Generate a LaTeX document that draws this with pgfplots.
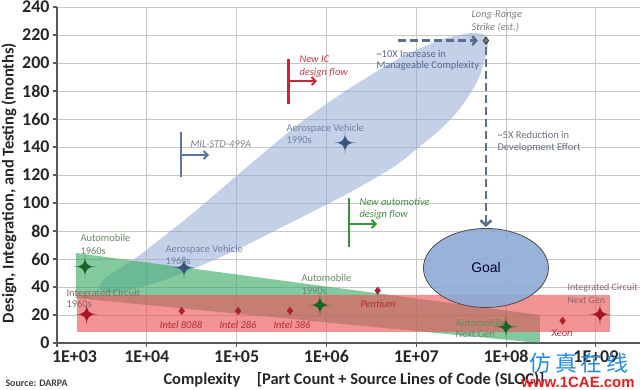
\documentclass[border=0pt]{standalone}
\usepackage{fontspec}
\setmainfont{Carlito}
\newfontfamily\arialfont{Liberation Sans}
\newfontfamily\cjk{Noto Sans CJK SC}
\usepackage{pgfplots}
\pgfplotsset{compat=1.18}
\usetikzlibrary{arrows.meta}

\definecolor{bandblue}{RGB}{145,170,212}
\definecolor{bandgreen}{RGB}{55,170,100}
\definecolor{bandred}{RGB}{238,80,85}
\definecolor{goalblue}{RGB}{142,170,214}
\definecolor{stargreen}{RGB}{25,100,40}
\definecolor{starred}{RGB}{165,20,40}
\definecolor{starblue}{RGB}{55,85,125}
\definecolor{diamred}{RGB}{170,35,50}
\definecolor{milblue}{RGB}{90,120,160}
\definecolor{icred}{RGB}{200,40,50}
\definecolor{autogreen}{RGB}{50,150,60}
\definecolor{dashblue}{RGB}{90,110,145}
\definecolor{lblgreen}{RGB}{105,135,105}
\definecolor{lblred}{RGB}{140,100,105}
\definecolor{lblblue}{RGB}{110,130,160}
\definecolor{lblintel}{RGB}{175,45,60}
\definecolor{lblgray}{RGB}{125,130,140}
\definecolor{lblnewic}{RGB}{200,60,70}
\definecolor{lblnewauto}{RGB}{70,140,70}
\definecolor{lbltenx}{RGB}{85,105,145}
\definecolor{lblfivex}{RGB}{105,112,125}
\definecolor{axisgray}{RGB}{89,89,89}

\pgfdeclareplotmark{sparkle}{%
  \pgfpathmoveto{\pgfqpoint{0pt}{\pgfplotmarksize}}%
  \pgfpathcurveto{\pgfqpoint{0pt}{0.22\pgfplotmarksize}}{\pgfqpoint{0.22\pgfplotmarksize}{0pt}}{\pgfqpoint{\pgfplotmarksize}{0pt}}%
  \pgfpathcurveto{\pgfqpoint{0.22\pgfplotmarksize}{0pt}}{\pgfqpoint{0pt}{-0.22\pgfplotmarksize}}{\pgfqpoint{0pt}{-\pgfplotmarksize}}%
  \pgfpathcurveto{\pgfqpoint{0pt}{-0.22\pgfplotmarksize}}{\pgfqpoint{-0.22\pgfplotmarksize}{0pt}}{\pgfqpoint{-\pgfplotmarksize}{0pt}}%
  \pgfpathcurveto{\pgfqpoint{-0.22\pgfplotmarksize}{0pt}}{\pgfqpoint{0pt}{0.22\pgfplotmarksize}}{\pgfqpoint{0pt}{\pgfplotmarksize}}%
  \pgfpathclose\pgfusepathqfill}
\pgfdeclareplotmark{goal}{%
  \pgfpathellipse{\pgfpointorigin}{\pgfqpoint{62.5bp}{0pt}}{\pgfqpoint{0pt}{39.5bp}}%
  \pgfusepathqfillstroke}

\newcommand\lbl{\fontsize{10.5}{12}\selectfont}

\begin{document}
\begin{tikzpicture}[x=1bp,y=1bp]
\path[use as bounding box] (-57,-46) rectangle (583,343);
\begin{axis}[
  at={(0,0)}, anchor=south west,
  scale only axis, width=583bp, height=336bp,
  xmode=log, log basis x=10,
  xmin=1e3, xmax=3.1e9, ymin=0, ymax=240,
  xtick={1e3,1e4,1e5,1e6,1e7,1e8,1e9},
  xticklabels={\makebox[0pt][l]{\kern-5bp 1E+03},1E+04,1E+05,1E+06,1E+07,1E+08,1E+09},
  ytick={0,20,40,60,80,100,120,140,160,180,200,220,240},
  yticklabels={0,20,40,60,80,100,120,140,160,180,200,220,240},
  grid=both,
  major grid style={draw=black!22, line width=0.8bp},
  minor grid style={draw=black!18, line width=0.7bp},
  axis x line*=bottom, axis y line*=left,
  axis line style={draw=axisgray, line width=1.1bp},
  tick align=outside, major tick length=4bp, minor tick length=0pt,
  tick style={draw=axisgray, line width=1.1bp},
  ticklabel style={font=\fontsize{18}{20}\selectfont\bfseries, text=black!85},
]
% Aerospace band
\addplot[draw=none, fill=bandblue, fill opacity=0.55, smooth] coordinates {
 (5.52e7,220.7) (6.28e7,216.4) (5.97e7,205.7) (4.86e7,187.9) (3.22e7,169.3)
 (1.93e7,153.6) (1.04e7,139.3) (5.36e6,125) (1.61e6,105.7) (4.13e5,86.4)
 (8.87e4,65) (1.81e4,46.4) (5030,36.4) (3010,37.9) (3420,46.4) (7780,61.4)
 (3.27e4,92.9) (1.30e5,125.7) (5.07e5,157.1) (1.69e6,180.7) (6.58e6,203.6)
 (1.84e7,216.4) (3.96e7,221.4) (5.52e7,220.7)};
% Automobile band
\addplot[draw=none, fill=bandgreen, fill opacity=0.62] coordinates {
 (1627,64.3) (2.38e8,20) (2.38e8,0) (1627,32.1) (1627,64.3)};
% Integrated circuit band
\addplot[draw=none, fill=bandred, fill opacity=0.62] coordinates {
 (1670,7.9) (1.43e9,7.9) (1.43e9,34.3) (1670,34.3) (1670,7.9)};
% Goal
\addplot[only marks, mark=goal, mark options={fill=goalblue, draw=black!70, line width=0.8bp, fill opacity=0.9}] coordinates {(5.97e7,53.6)};
% design-flow markers
\addplot[milblue, line width=2.5bp] coordinates {(24040,150.7) (24040,118.6)};
\addplot[milblue, line width=2bp, -{Straight Barb[length=4bp,width=8bp]}] coordinates {(24040,134.3) (49300,134.3)};
\addplot[icred, line width=2.5bp] coordinates {(3.77e5,202.9) (3.77e5,170.7)};
\addplot[icred, line width=2bp, -{Straight Barb[length=4bp,width=8bp]}] coordinates {(3.77e5,187.1) (7.86e5,187.1)};
\addplot[autogreen, line width=2.5bp] coordinates {(1.79e6,103.6) (1.79e6,68.6)};
\addplot[autogreen, line width=2bp, -{Straight Barb[length=4bp,width=8bp]}] coordinates {(1.79e6,85) (3.66e6,85)};
% dashed arrows
\addplot[dashblue, line width=2.5bp, dash pattern=on 8bp off 4bp, -{Straight Barb[length=4bp,width=9bp]}] coordinates {(6.25e6,216) (4.86e7,216)};
\addplot[dashblue, line width=2.5bp, dash pattern=on 8bp off 4bp, -{Straight Barb[length=5bp,width=11bp]}] coordinates {(5.97e7,211.4) (5.97e7,82.9)};
% Intel diamonds
\addplot[only marks, mark=diamond*, mark size=3.8bp, color=diamred] coordinates {
 (24440,22.9) (1.04e5,22.9) (3.93e5,22.9) (3.72e6,37.4) (4.26e8,15.9)};
% stars
\addplot[only marks, mark=sparkle, mark size=11.5bp, color=stargreen] coordinates {(2050,54.5) (8.47e5,27.1) (9.96e7,11.6)};
\addplot[only marks, mark=sparkle, mark size=11.5bp, color=starred] coordinates {(2140,20.5) (1.11e9,20.5)};
\addplot[only marks, mark=sparkle, mark size=11.5bp, color=starblue] coordinates {(25940,53.8) (1.61e6,143)};
% long-range strike
\addplot[only marks, mark=diamond*, mark size=3.5bp, mark options={fill=gray, draw=black!75, line width=1bp}] coordinates {(5.97e7,216)};
\end{axis}

% annotations
\node[anchor=base west, text=lblgreen, font=\lbl] at (20,102) {Automobile};
\node[anchor=base west, text=lblgreen, font=\lbl] at (20,89) {1960s};
\node[anchor=base west, text=lblred, font=\lbl] at (6,47) {Integrated Circuit};
\node[anchor=base west, text=lblred, font=\lbl] at (6,36) {1960s};
\node[anchor=base west, text=lblblue, font=\lbl] at (105,91) {Aerospace Vehicle};
\node[anchor=base west, text=lblblue, font=\lbl] at (105,79) {1960s};
\node[anchor=base, text=lblintel, font=\lbl\itshape] at (124,15) {Intel 8088};
\node[anchor=base, text=lblintel, font=\lbl\itshape] at (181,15) {Intel 286};
\node[anchor=base, text=lblintel, font=\lbl\itshape] at (235,15) {Intel 386};
\node[anchor=base, text=lblintel, font=\lbl\itshape] at (321,36) {Pentium};
\node[anchor=base west, text=lblgreen, font=\lbl] at (241,62) {Automobile};
\node[anchor=base west, text=lblgreen, font=\lbl] at (241,49) {1990s};
\node[anchor=base west, text=lblgreen, font=\lbl] at (395,17) {Automobile};
\node[anchor=base west, text=lblgreen, font=\lbl] at (395,6) {Next Gen};
\node[anchor=base, text=lblintel, font=\lbl\itshape] at (505,7) {Xeon};
\node[anchor=base west, text=lblred, font=\fontsize{10}{12}\selectfont] at (507,53) {Integrated Circuit};
\node[anchor=base west, text=lblred, font=\fontsize{10}{12}\selectfont] at (507,40) {Next Gen};
\node[anchor=base west, text=lblblue, font=\lbl] at (226,212) {Aerospace Vehicle};
\node[anchor=base west, text=lblblue, font=\lbl] at (226,200) {1990s};
\node[anchor=base west, text=lblgray, font=\lbl\itshape] at (130,196) {MIL-STD-499A};
\node[anchor=base west, text=lblnewic, font=\lbl\itshape] at (239,281) {New IC};
\node[anchor=base west, text=lblnewic, font=\lbl\itshape] at (239,268) {design flow};
\node[anchor=base west, text=lblnewauto, font=\lbl\itshape] at (299,138) {New automotive};
\node[anchor=base west, text=lblnewauto, font=\lbl\itshape] at (299,126) {design flow};
\node[anchor=base west, text=lbltenx, font=\lbl] at (316,286) {\textasciitilde 10X Increase in};
\node[anchor=base west, text=lbltenx, font=\lbl] at (316,275) {Manageable Complexity};
\node[anchor=base west, text=lblfivex, font=\lbl] at (437,205) {\textasciitilde 5X Reduction in};
\node[anchor=base west, text=lblfivex, font=\lbl] at (437,193) {Development Effort};
\node[anchor=base west, text=black!50, font=\lbl\itshape] at (411,326) {Long-Range};
\node[anchor=base west, text=black!50, font=\lbl\itshape] at (411,313) {Strike (est.)};
\node[text=black!85!blue, font=\arialfont\fontsize{14}{16}\selectfont] at (429,75) {Goal};

% axis titles
\node[rotate=90, font=\fontsize{16.5}{18}\selectfont\bfseries, text=black!85] at (-48,160) {Design, Integration, and Testing (months)};
\node[anchor=base west, font=\fontsize{16.5}{18}\selectfont\bfseries, text=black!85] at (103,-41) {Complexity\quad[Part Count + Source Lines of Code (SLOC)]};
\node[anchor=base west, font=\fontsize{10}{12}\selectfont\bfseries, text=black!75] at (-55,-43) {Source: DARPA};

% watermark
\node[text={rgb,255:red,30;green,140;blue,230}, font=\cjk\fontsize{22}{24}\selectfont] at (522,-20) {仿\,真\,在\,线};
\node[text={rgb,255:red,230;green,30;blue,30}, font=\arialfont\bfseries\fontsize{15}{17}\selectfont] at (521,-39) {www.1CAE.com};
\end{tikzpicture}
\end{document}
